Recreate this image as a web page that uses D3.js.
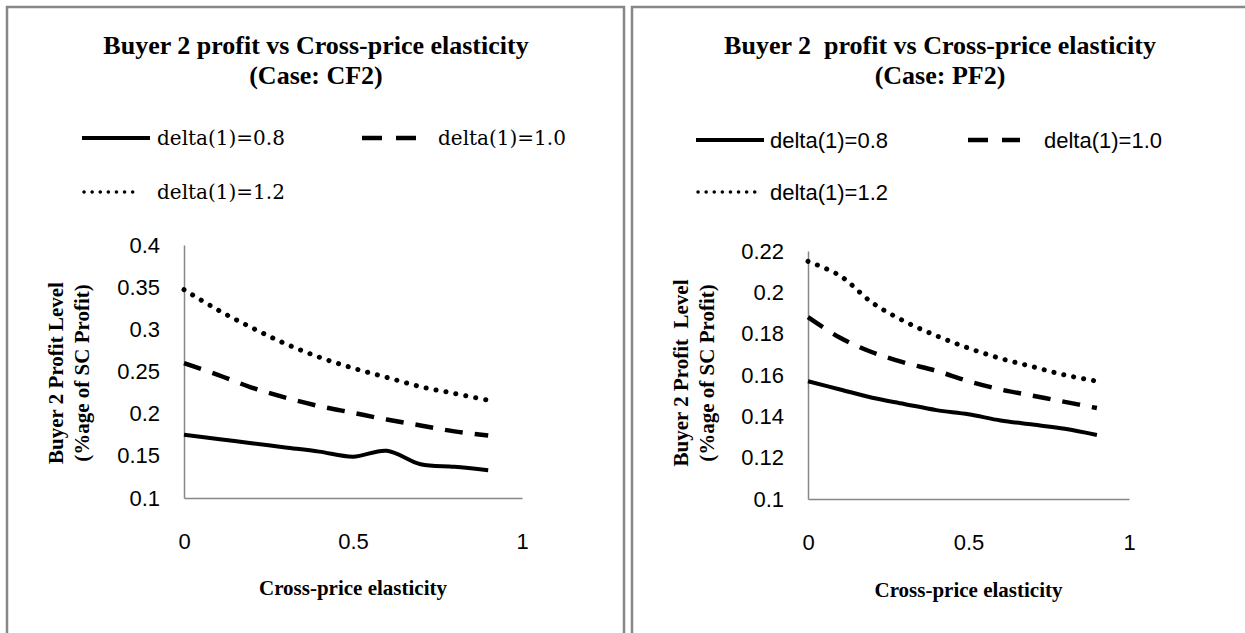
<!DOCTYPE html>
<html>
<head>
<meta charset="utf-8">
<script src="https://cdn.jsdelivr.net/npm/d3@7"></script>
<style>
  body { margin: 0; background: #fff; }
  svg { display: block; }
  text { white-space: pre; }
</style>
</head>
<body>
<svg width="1245" height="633"></svg>
<script>
const elasticity = [0, 0.1, 0.2, 0.3, 0.4, 0.5, 0.6, 0.7, 0.8, 0.9];
const seriesNames = ['delta(1)=0.8', 'delta(1)=1.0', 'delta(1)=1.2'];

// Case CF2
const cf2Delta08 = [0.175, 0.170, 0.165, 0.160, 0.155, 0.149, 0.156, 0.140, 0.137, 0.133];
const cf2Delta10 = [0.260, 0.246, 0.231, 0.219, 0.209, 0.201, 0.193, 0.186, 0.179, 0.174];
const cf2Delta12 = [0.347, 0.323, 0.302, 0.283, 0.267, 0.254, 0.243, 0.232, 0.224, 0.216];

// Case PF2
const pf2Delta08 = [0.157, 0.153, 0.149, 0.146, 0.143, 0.141, 0.138, 0.136, 0.134, 0.131];
const pf2Delta10 = [0.188, 0.178, 0.171, 0.166, 0.162, 0.157, 0.153, 0.150, 0.147, 0.144];
const pf2Delta12 = [0.215, 0.208, 0.195, 0.186, 0.179, 0.173, 0.168, 0.164, 0.160, 0.157];

const xTicks = [0, 0.5, 1];
const cf2YTicks = [0.1, 0.15, 0.2, 0.25, 0.3, 0.35, 0.4];
const pf2YTicks = [0.1, 0.12, 0.14, 0.16, 0.18, 0.2, 0.22];

const svg = d3.select('svg');
const grey = '#878787';
const serif = '"Liberation Serif", "Times New Roman", serif';
const sans = '"Liberation Sans", Arial, sans-serif';

// line looks: solid, dashed, dotted
const lineStyles = [
  { width: 4, dash: null, legendDash: null, cap: 'butt' },
  { width: 4.5, dash: '18,12', legendDash: '20,14', cap: 'butt' },
  { width: 5, dash: '0.1,10', legendDash: '0.1,8', cap: 'round' },
];

// panel frames
svg.append('path')
  .attr('d', 'M7,640V7H624V640')
  .attr('fill', 'none')
  .attr('stroke', grey)
  .attr('stroke-width', 2.5);
svg.append('path')
  .attr('d', 'M632,640V7H1250')
  .attr('fill', 'none')
  .attr('stroke', grey)
  .attr('stroke-width', 2.5);

function drawPanel(p) {
  const g = svg.append('g');

  const x = d3.scaleLinear().domain([0, 1]).range([p.left, p.right]);
  const y = d3.scaleLinear().domain(p.yDomain).range([p.bottom, p.top]);

  // title
  g.append('text')
    .attr('x', p.cx)
    .attr('y', 54)
    .attr('text-anchor', 'middle')
    .style('font-family', serif)
    .style('font-weight', 'bold')
    .style('font-size', '26px')
    .text(p.title);
  g.append('text')
    .attr('x', p.cx)
    .attr('y', 84)
    .attr('text-anchor', 'middle')
    .style('font-family', serif)
    .style('font-weight', 'bold')
    .style('font-size', '26px')
    .text(p.subtitle);

  // axes
  const xAxis = g.append('g')
    .attr('transform', `translate(0,${p.bottom})`)
    .call(d3.axisBottom(x).tickValues(xTicks).tickFormat(d3.format('')).tickSize(0).tickPadding(35));
  const yAxis = g.append('g')
    .attr('transform', `translate(${p.left},0)`)
    .call(d3.axisLeft(y).tickValues(p.yTicks).tickFormat(d3.format('')).tickSize(0).tickPadding(24));

  [xAxis, yAxis].forEach((a) => {
    a.select('.domain').attr('stroke', grey).attr('stroke-width', 1.5);
    a.selectAll('text')
      .attr('fill', '#000')
      .style('font-family', sans)
      .style('font-size', '22px');
  });

  // axis titles
  g.append('text')
    .attr('x', (p.left + p.right) / 2)
    .attr('y', p.xTitleY)
    .attr('text-anchor', 'middle')
    .style('font-family', serif)
    .style('font-weight', 'bold')
    .style('font-size', '21px')
    .text('Cross-price elasticity');

  const yTitle = g.append('text')
    .attr('transform', `translate(${p.yTitleX},373) rotate(-90)`)
    .attr('text-anchor', 'middle')
    .style('font-family', serif)
    .style('font-weight', 'bold')
    .style('font-size', '21px');
  yTitle.append('tspan').attr('x', 0).attr('dy', 0).text(p.yTitle[0]);
  yTitle.append('tspan').attr('x', 0).attr('dy', 26).text(p.yTitle[1]);

  // series
  const line = d3.line()
    .x((d, i) => x(elasticity[i]))
    .y((d) => y(d))
    .curve(d3.curveCatmullRom);

  p.series.forEach((values, i) => {
    const s = lineStyles[i];
    g.append('path')
      .datum(values)
      .attr('d', line)
      .attr('fill', 'none')
      .attr('stroke', '#000')
      .attr('stroke-width', s.width)
      .attr('stroke-dasharray', s.dash)
      .attr('stroke-linecap', s.cap);
  });

  // legend
  p.legend.forEach((pos, i) => {
    const s = lineStyles[i];
    g.append('line')
      .attr('x1', pos[0])
      .attr('x2', pos[1])
      .attr('y1', pos[3])
      .attr('y2', pos[3])
      .attr('stroke', '#000')
      .attr('stroke-width', i === 2 ? 3.5 : s.width)
      .attr('stroke-dasharray', s.legendDash)
      .attr('stroke-linecap', s.cap);
    g.append('text')
      .attr('x', pos[2])
      .attr('y', pos[3])
      .attr('dy', '0.35em')
      .style('font-family', p.legendFont)
      .style('font-size', p.legendSize)
      .text(seriesNames[i]);
  });
}

drawPanel({
  title: 'Buyer 2 profit vs Cross-price elasticity',
  subtitle: '(Case: CF2)',
  cx: 316,
  left: 184,
  right: 522,
  top: 245,
  bottom: 498,
  yDomain: [0.1, 0.4],
  yTicks: cf2YTicks,
  yTitleX: 63,
  xTitleY: 595,
  yTitle: ['Buyer 2 Profit Level', '(%age of SC Profit)'],
  series: [cf2Delta08, cf2Delta10, cf2Delta12],
  legend: [[82, 150, 157, 138], [362, 416, 438, 138], [84, 140, 157, 192]],
  legendFont: '"DejaVu Serif", serif',
  legendSize: '20px',
});

drawPanel({
  title: 'Buyer 2  profit vs Cross-price elasticity',
  subtitle: '(Case: PF2)',
  cx: 940,
  left: 808,
  right: 1129,
  top: 251,
  bottom: 499,
  yDomain: [0.1, 0.22],
  yTicks: pf2YTicks,
  yTitleX: 688,
  xTitleY: 597,
  yTitle: ['Buyer 2 Profit  Level', '(%age of SC Profit)'],
  series: [pf2Delta08, pf2Delta10, pf2Delta12],
  legend: [[696, 764, 770, 140], [968, 1020, 1044, 140], [698, 756, 770, 192]],
  legendFont: sans,
  legendSize: '22px',
});
</script>
</body>
</html>
